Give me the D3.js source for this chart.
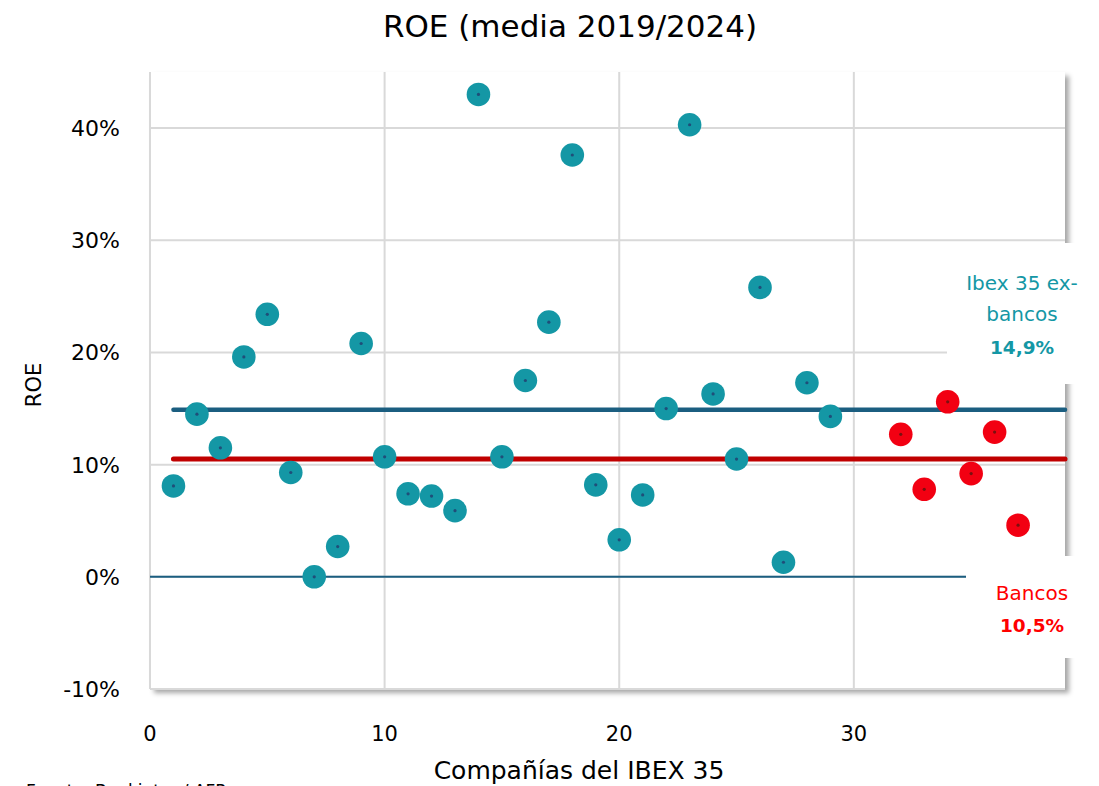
<!DOCTYPE html>
<html>
<head>
<meta charset="utf-8">
<script src="https://cdn.jsdelivr.net/npm/d3@7"></script>
<style>
  body { margin: 0; background: #fff; }
  svg { font-family: 'DejaVu Sans', 'Noto Sans', sans-serif; }
</style>
</head>
<body>
<div id="chart"></div>
<script>
  // ROE media 2019/2024, companias del IBEX 35 (numeradas)
  var exBancosX = [1, 2, 3, 4, 5, 6, 7, 8, 9, 10, 11, 12, 13, 14, 15, 16, 17, 18, 19, 20,
    21, 22, 23, 24, 25, 26, 27, 28, 29];
  var exBancosRoe = [8.1, 14.5, 11.5, 19.6, 23.4, 9.3, 0.0, 2.7, 20.8, 10.7, 7.4, 7.2, 5.9, 43.0,
    10.7, 17.5, 22.7, 37.6, 8.2, 3.3, 7.3, 15.0, 40.3, 16.3, 10.5, 25.8, 1.3, 17.3, 14.3];
  var bancosX = [32, 33, 34, 35, 36, 37];
  var bancosRoe = [12.7, 7.8, 15.6, 9.2, 12.9, 4.6];
  var mediaExBancos = 14.9;
  var mediaBancos = 10.5;
  var xTicks = [0, 10, 20, 30];
  var yTicks = [-10, 0, 10, 20, 30, 40];

  (function() {
    'use strict';

    var width = 1099, height = 786;
    var pl = 150, pr = 1065, pt = 72, pb = 689;

    var svg = d3.select('#chart').append('svg')
      .attr('width', width)
      .attr('height', height);

    var f = svg.append('defs').append('filter').attr('id', 'shadow')
      .attr('x', '-5%').attr('y', '-5%').attr('width', '115%').attr('height', '115%');
    f.append('feDropShadow')
      .attr('dx', 4).attr('dy', 4).attr('stdDeviation', 2.5)
      .attr('flood-color', '#000').attr('flood-opacity', 0.35);

    var x = d3.scaleLinear().domain([0, 39]).range([pl, pr]);
    var y = d3.scaleLinear().domain([-10, 45]).range([pb, pt]);

    // plot background with shadow
    svg.append('rect')
      .attr('x', pl).attr('y', pt)
      .attr('width', pr - pl).attr('height', pb - pt)
      .attr('fill', '#fff')
      .attr('filter', 'url(#shadow)');

    // grid
    svg.append('g')
      .selectAll('line')
      .data(yTicks)
      .enter()
      .append('line')
      .attr('x1', pl).attr('x2', pr)
      .attr('y1', function(d) { return y(d); })
      .attr('y2', function(d) { return y(d); })
      .attr('stroke', '#d9d9d9')
      .attr('stroke-width', 2);

    svg.append('g')
      .selectAll('line')
      .data(xTicks)
      .enter()
      .append('line')
      .attr('x1', function(d) { return x(d); })
      .attr('x2', function(d) { return x(d); })
      .attr('y1', pt).attr('y2', pb)
      .attr('stroke', '#d9d9d9')
      .attr('stroke-width', 2);

    // zero line
    svg.append('line')
      .attr('x1', pl).attr('x2', pr)
      .attr('y1', y(0)).attr('y2', y(0))
      .attr('stroke', '#1b5e80')
      .attr('stroke-width', 2);

    // mean lines
    svg.append('line')
      .attr('x1', x(1)).attr('x2', pr)
      .attr('y1', y(mediaExBancos)).attr('y2', y(mediaExBancos))
      .attr('stroke', '#1b5e80')
      .attr('stroke-width', 4.5)
      .attr('stroke-linecap', 'round');

    svg.append('line')
      .attr('x1', x(1)).attr('x2', pr)
      .attr('y1', y(mediaBancos)).attr('y2', y(mediaBancos))
      .attr('stroke', '#c00000')
      .attr('stroke-width', 5)
      .attr('stroke-linecap', 'round');

    // points
    function drawPoints(xs, vals, fill, dot) {
      var pts = svg.append('g')
        .selectAll('g')
        .data(vals)
        .enter()
        .append('g')
        .attr('transform', function(d, i) {
          return 'translate(' + x(xs[i]) + ',' + y(d) + ')';
        });
      pts.append('circle').attr('r', 11.8).attr('fill', fill);
      pts.append('circle').attr('r', 1.6).attr('fill', dot);
    }
    drawPoints(exBancosX, exBancosRoe, '#1497a5', '#1f4e79');
    drawPoints(bancosX, bancosRoe, '#f20012', '#7a1010');

    // annotation boxes
    svg.append('rect')
      .attr('x', 947).attr('y', 243).attr('width', 152).attr('height', 141)
      .attr('fill', '#fff');
    svg.append('rect')
      .attr('x', 966).attr('y', 556).attr('width', 133).attr('height', 102)
      .attr('fill', '#fff');

    var ann1 = svg.append('g').attr('fill', '#1497a5').attr('text-anchor', 'middle');
    ann1.append('text').attr('x', 1022).attr('y', 290).attr('font-size', 20).text('Ibex 35 ex-');
    ann1.append('text').attr('x', 1022).attr('y', 321).attr('font-size', 20).text('bancos');
    ann1.append('text').attr('x', 1022).attr('y', 354).attr('font-size', 18.5)
      .attr('font-weight', 'bold').text('14,9%');

    var ann2 = svg.append('g').attr('fill', '#ff0000').attr('text-anchor', 'middle');
    ann2.append('text').attr('x', 1032).attr('y', 600).attr('font-size', 20).text('Bancos');
    ann2.append('text').attr('x', 1032).attr('y', 632).attr('font-size', 18.5)
      .attr('font-weight', 'bold').text('10,5%');

    // tick labels
    svg.append('g')
      .selectAll('text')
      .data(yTicks)
      .enter()
      .append('text')
      .attr('x', 120)
      .attr('y', function(d) { return y(d) + 8; })
      .attr('text-anchor', 'end')
      .attr('font-size', 22)
      .attr('fill', '#000')
      .text(function(d) { return d + '%'; });

    svg.append('g')
      .selectAll('text')
      .data(xTicks)
      .enter()
      .append('text')
      .attr('x', function(d) { return x(d); })
      .attr('y', 741)
      .attr('text-anchor', 'middle')
      .attr('font-size', 21)
      .attr('fill', '#000')
      .text(function(d) { return d; });

    // titles
    svg.append('text')
      .attr('x', 570).attr('y', 37)
      .attr('text-anchor', 'middle')
      .attr('font-size', 31)
      .attr('fill', '#000')
      .text('ROE (media 2019/2024)');

    svg.append('text')
      .attr('x', 579).attr('y', 779)
      .attr('text-anchor', 'middle')
      .attr('font-size', 25)
      .attr('fill', '#000')
      .text('Compañías del IBEX 35');

    svg.append('text')
      .attr('transform', 'translate(41,385) rotate(-90)')
      .attr('text-anchor', 'middle')
      .attr('font-size', 21)
      .attr('fill', '#000')
      .text('ROE');

    svg.append('text')
      .attr('x', 26).attr('y', 797)
      .attr('font-size', 17)
      .attr('fill', '#000')
      .text('Fuente: Bankinter / AFR');
  })();
</script>
</body>
</html>
